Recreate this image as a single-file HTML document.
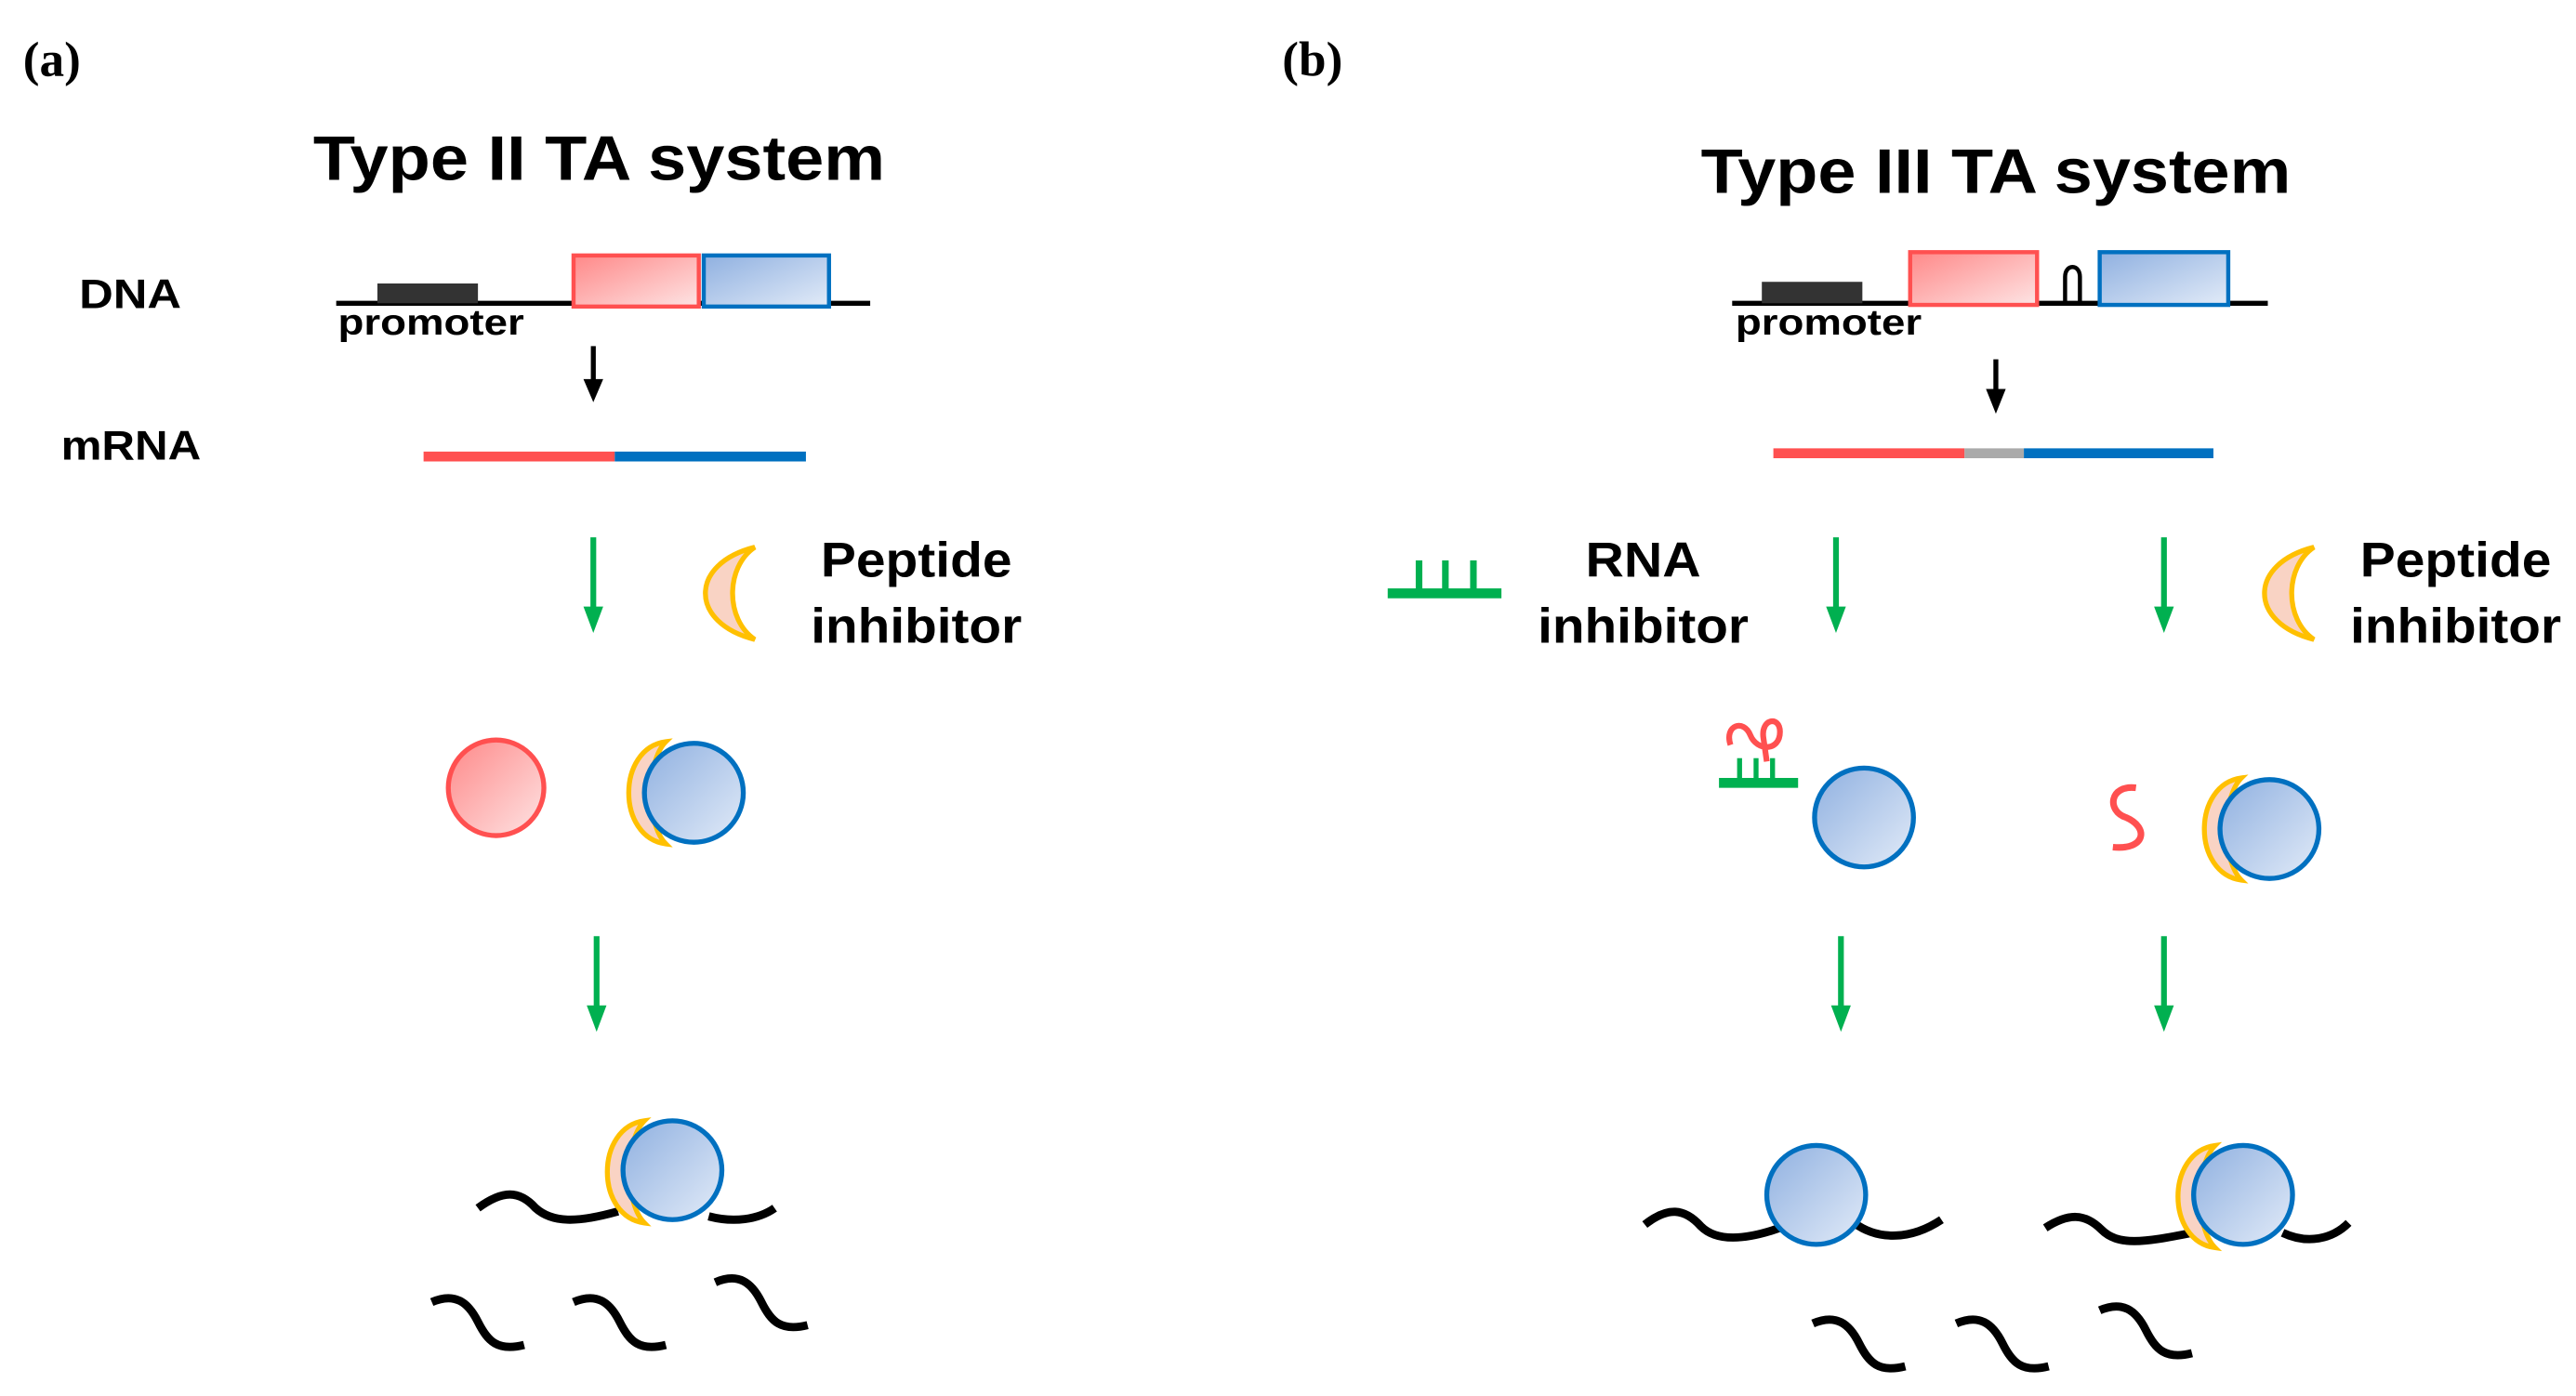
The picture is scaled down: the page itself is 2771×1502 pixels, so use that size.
<!DOCTYPE html>
<html><head><meta charset="utf-8"><style>html,body{margin:0;padding:0;background:#fff}svg{display:block}</style></head><body>
<svg width="2771" height="1502" viewBox="0 0 1563 847" preserveAspectRatio="none" xmlns="http://www.w3.org/2000/svg">
<defs>
<linearGradient id="rg" x1="0" y1="0" x2="1" y2="1"><stop offset="0" stop-color="#f88"/><stop offset="1" stop-color="#fde4e4"/></linearGradient>
<linearGradient id="bg" x1="0" y1="0" x2="1" y2="1"><stop offset="0" stop-color="#8fb0e0"/><stop offset="1" stop-color="#e2ebf8"/></linearGradient>
<g id="moon"><path d="M32,0 C-8,10 -8,46 32,56 C14,44 14,12 32,0 z" fill="#f9d3c4" stroke="#ffc000" stroke-width="3"/></g>
<g id="cm"><path d="M30,0 C0,4 0,58 30,62 C18,50 18,12 30,0 z" fill="#f9d3c4" stroke="#ffc000" stroke-width="3"/></g>
<g id="blue"><circle r="30" fill="url(#bg)" stroke="#0070c0" stroke-width="3"/></g>
<g id="sq"><path d="M0,0 C14,-6 22,0 28,12 C34,24 40,30 56,26" fill="none" stroke="#000" stroke-width="5"/></g>
<g id="ga"><line x1="0" y1="0" x2="0" y2="46" stroke="#00b050" stroke-width="3.5"/><path d="M-6,42 L6,42 L0,58 z" fill="#00b050"/></g>
</defs>
<g font-family="Liberation Sans, sans-serif" font-weight="bold" fill="#000">
<text x="14" y="46" font-family="Liberation Serif, serif" font-size="30">(a)</text>
<text x="778" y="46" font-family="Liberation Serif, serif" font-size="30">(b)</text>
<text x="190" y="109" font-size="38" textLength="347" lengthAdjust="spacingAndGlyphs">Type II TA system</text>
<text x="1032" y="117" font-size="38" textLength="358" lengthAdjust="spacingAndGlyphs">Type III TA system</text>
<text x="48" y="187" font-size="25" textLength="62" lengthAdjust="spacingAndGlyphs">DNA</text>
<text x="37" y="279" font-size="25" textLength="85" lengthAdjust="spacingAndGlyphs">mRNA</text>
<text x="205" y="203" font-size="22" textLength="113" lengthAdjust="spacingAndGlyphs">promoter</text>
<text x="1053" y="203" font-size="22" textLength="113" lengthAdjust="spacingAndGlyphs">promoter</text>
<text x="498" y="350" font-size="30" textLength="116" lengthAdjust="spacingAndGlyphs">Peptide</text>
<text x="492" y="390" font-size="30" textLength="128" lengthAdjust="spacingAndGlyphs">inhibitor</text>
<text x="962" y="350" font-size="30" textLength="70" lengthAdjust="spacingAndGlyphs">RNA</text>
<text x="933" y="390" font-size="30" textLength="128" lengthAdjust="spacingAndGlyphs">inhibitor</text>
<text x="1432" y="350" font-size="30" textLength="116" lengthAdjust="spacingAndGlyphs">Peptide</text>
<text x="1426" y="390" font-size="30" textLength="128" lengthAdjust="spacingAndGlyphs">inhibitor</text>
</g>
<line x1="204" y1="184" x2="528" y2="184" stroke="#000" stroke-width="3"/>
<rect x="229" y="172" width="61" height="12" fill="#333"/>
<rect x="348" y="155" width="76" height="31" fill="url(#rg)" stroke="#ff5050" stroke-width="2.5"/>
<rect x="427" y="155" width="76" height="31" fill="url(#bg)" stroke="#0070c0" stroke-width="2.5"/>
<line x1="360" y1="210" x2="360" y2="232" stroke="#000" stroke-width="3"/><path d="M354,230 L366,230 L360,244 z"/>
<line x1="257" y1="277" x2="373" y2="277" stroke="#ff5050" stroke-width="6"/>
<line x1="373" y1="277" x2="489" y2="277" stroke="#0070c0" stroke-width="6"/>
<use href="#ga" x="360" y="326"/>
<use href="#moon" x="426" y="332"/>
<circle cx="301" cy="478" r="29" fill="url(#rg)" stroke="#ff5050" stroke-width="3"/>
<use href="#cm" x="374" y="450"/><use href="#blue" x="421" y="481"/>
<use href="#ga" x="362" y="568"/>
<path d="M290,733 C305,722 315,722 325,733 C335,742 350,742 375,735 M430,738 C445,742 460,740 470,733" fill="none" stroke="#000" stroke-width="5"/>
<use href="#cm" x="361" y="680"/><use href="#blue" x="408" y="710"/>
<use href="#sq" x="262" y="790"/><use href="#sq" x="348" y="790"/><use href="#sq" x="434" y="778"/>
<line x1="1051" y1="184" x2="1376" y2="184" stroke="#000" stroke-width="3"/>
<rect x="1069" y="171" width="61" height="13" fill="#333"/>
<rect x="1159" y="153" width="77" height="32" fill="url(#rg)" stroke="#ff5050" stroke-width="2.5"/>
<rect x="1274" y="153" width="78" height="32" fill="url(#bg)" stroke="#0070c0" stroke-width="2.5"/>
<path d="M1253,184 L1253,168 C1253,160 1262,160 1262,168 L1262,184" fill="none" stroke="#000" stroke-width="2.5"/>
<line x1="1211" y1="218" x2="1211" y2="238" stroke="#000" stroke-width="3"/><path d="M1205,236 L1217,236 L1211,251 z"/>
<line x1="1076" y1="275" x2="1192" y2="275" stroke="#ff5050" stroke-width="6"/>
<line x1="1192" y1="275" x2="1228" y2="275" stroke="#aaa" stroke-width="6"/>
<line x1="1228" y1="275" x2="1343" y2="275" stroke="#0070c0" stroke-width="6"/>
<rect x="842" y="357" width="69" height="6" fill="#00b050"/>
<rect x="859" y="340" width="4" height="18" fill="#00b050"/><rect x="875" y="340" width="4" height="18" fill="#00b050"/><rect x="892" y="340" width="4" height="18" fill="#00b050"/>
<use href="#ga" x="1114" y="326"/>
<use href="#ga" x="1313" y="326"/>
<use href="#moon" x="1372" y="332"/>
<path d="M1050,452 C1046,440 1058,436 1062,446 C1066,456 1080,456 1080,444 C1080,434 1068,436 1070,448 L1072,462" fill="none" stroke="#ff5050" stroke-width="3.5"/>
<rect x="1043" y="472" width="48" height="6" fill="#00b050"/>
<rect x="1054" y="460" width="3" height="13" fill="#00b050"/><rect x="1064" y="460" width="3" height="13" fill="#00b050"/><rect x="1074" y="460" width="3" height="13" fill="#00b050"/>
<use href="#blue" x="1131" y="496"/>
<path d="M1296,478 C1280,476 1278,492 1290,496 C1304,502 1302,516 1282,514" fill="none" stroke="#ff5050" stroke-width="4"/>
<use href="#cm" x="1330" y="472"/><use href="#blue" x="1377" y="503"/>
<use href="#ga" x="1117" y="568"/>
<use href="#ga" x="1313" y="568"/>
<path d="M998,743 C1012,732 1022,733 1032,744 C1042,754 1060,752 1080,745 M1125,742 C1140,753 1160,752 1178,740" fill="none" stroke="#000" stroke-width="5"/>
<use href="#blue" x="1102" y="725"/>
<path d="M1241,745 C1255,736 1265,736 1275,746 C1285,756 1300,754 1330,748 M1385,748 C1400,755 1415,752 1425,742" fill="none" stroke="#000" stroke-width="5"/>
<use href="#cm" x="1314" y="695"/><use href="#blue" x="1361" y="725"/>
<use href="#sq" x="1100" y="803"/><use href="#sq" x="1187" y="803"/><use href="#sq" x="1274" y="795"/>
</svg>
</body></html>
